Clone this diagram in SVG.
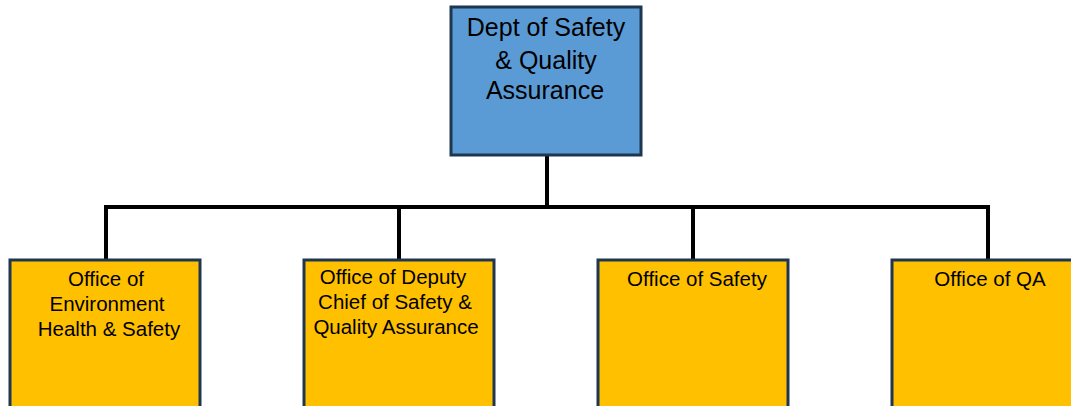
<svg xmlns="http://www.w3.org/2000/svg" width="1071" height="406" viewBox="0 0 1071 406">
<style>
.box{stroke:#1e3650;stroke-width:3}
.top{fill:#5b9bd5}
.sub{fill:#ffc000}
.t{font-family:"Liberation Sans",Arial,sans-serif;fill:#000;text-anchor:middle}
.tt{font-size:25px}
.st{font-size:20.5px}
.conn{fill:none;stroke:#000;stroke-width:4;stroke-linejoin:miter}
</style>
<rect width="1071" height="406" fill="#fff"/>
<g id="connectors">
<line class="conn" x1="547" y1="156" x2="547" y2="207"/>
<polyline class="conn" points="106,259 106,207 988,207 988,259"/>
<line class="conn" x1="399" y1="207" x2="399" y2="259"/>
<line class="conn" x1="693" y1="207" x2="693" y2="259"/>
</g>
<g id="dept">
<rect class="box top" x="451" y="7" width="190" height="148"/>
<text class="t tt" x="546" y="36">Dept of Safety</text>
<text class="t tt" x="546" y="69">&amp; Quality</text>
<text class="t tt" x="545" y="99">Assurance</text>
</g>
<g id="ehs">
<rect class="box sub" x="10" y="260" width="190" height="150"/>
<text class="t st" x="106" y="286">Office of</text>
<text class="t st" x="107" y="311">Environment</text>
<text class="t st" x="109" y="336">Health &amp; Safety</text>
</g>
<g id="deputy">
<rect class="box sub" x="304" y="260" width="190" height="150"/>
<text class="t st" x="393" y="284">Office of Deputy</text>
<text class="t st" x="395" y="309">Chief of Safety &amp;</text>
<text class="t st" x="396" y="334">Quality Assurance</text>
</g>
<g id="safety">
<rect class="box sub" x="598" y="260" width="190" height="150"/>
<text class="t st" x="697" y="286">Office of Safety</text>
</g>
<g id="qa">
<rect class="box sub" x="892" y="260" width="190" height="150"/>
<text class="t st" x="990" y="286">Office of QA</text>
</g>
</svg>
